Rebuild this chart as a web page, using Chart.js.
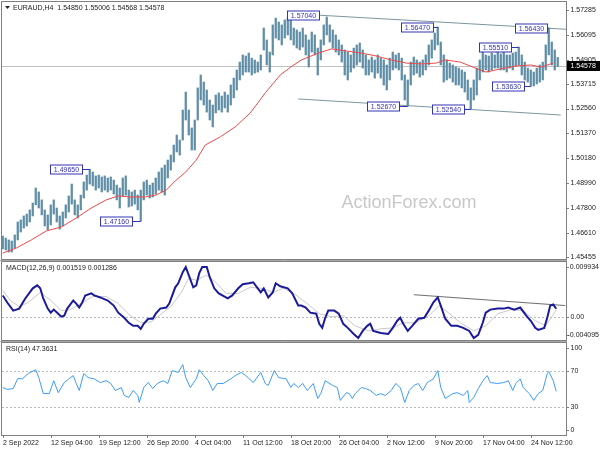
<!DOCTYPE html>
<html>
<head>
<meta charset="utf-8">
<script src="https://cdn.jsdelivr.net/npm/chart.js@4.4.1/dist/chart.umd.min.js"></script>
<style>
  body { margin: 0; background: #fff; }
  #wrap { position: relative; width: 600px; height: 450px; overflow: hidden; background: #fff; }
  canvas { position: absolute; left: 0; }
</style>
</head>
<body>
<div id="wrap">
  <canvas id="main" width="600" height="261" style="top:0px"></canvas>
  <canvas id="macd" width="600" height="81" style="top:261px"></canvas>
  <canvas id="rsi" width="600" height="108" style="top:342px"></canvas>
</div>
<script>
// EURAUD H4 - every entry below is one column of two H4 bars
const barStep = 2;
const priceHigh = [
  1.4645,1.4635,1.4626,1.4621,1.4650,1.4712,1.4722,1.4741,1.4750,1.4770,
  1.4803,1.4875,1.4856,1.4818,1.4770,1.4746,1.4794,1.4818,1.4779,1.4741,
  1.4760,1.4794,1.4837,1.4894,1.4818,1.4794,1.4841,1.4904,1.4937,1.4965,
  1.4952,1.4933,1.4937,1.4928,1.4933,1.4923,1.4928,1.4913,1.4889,1.4875,
  1.4923,1.4933,1.4865,1.4856,1.4865,1.4841,1.4865,1.4904,1.4913,1.4889,
  1.4899,1.4923,1.4952,1.4971,1.4985,1.5009,1.5033,1.5081,1.5129,1.5105,
  1.5249,1.5335,1.5249,1.5163,1.5201,1.5355,1.5417,1.5383,1.5345,1.5297,
  1.5273,1.5321,1.5331,1.5316,1.5335,1.5321,1.5369,1.5402,1.5441,1.5479,
  1.5513,1.5508,1.5522,1.5498,1.5489,1.5479,1.5513,1.5642,1.5585,1.5527,
  1.5657,1.5690,1.5671,1.5657,1.5681,1.5690,1.5704,1.5642,1.5633,1.5623,
  1.5642,1.5609,1.5585,1.5623,1.5609,1.5546,1.5585,1.5657,1.5695,1.5657,
  1.5633,1.5609,1.5585,1.5561,1.5537,1.5527,1.5513,1.5546,1.5561,1.5570,
  1.5537,1.5513,1.5489,1.5503,1.5489,1.5513,1.5498,1.5489,1.5465,1.5498,
  1.5527,1.5513,1.5522,1.5498,1.5417,1.5393,1.5479,1.5503,1.5489,1.5479,
  1.5489,1.5513,1.5561,1.5585,1.5618,1.5647,1.5575,1.5513,1.5489,1.5474,
  1.5465,1.5455,1.5450,1.5441,1.5431,1.5393,1.5355,1.5393,1.5450,1.5489,
  1.5527,1.5513,1.5508,1.5522,1.5513,1.5527,1.5518,1.5527,1.5513,1.5513,
  1.5522,1.5527,1.5551,1.5513,1.5479,1.5450,1.5441,1.5431,1.5450,1.5465,
  1.5479,1.5561,1.5643,1.5575,1.5537,1.5501
];
const priceLow = [
  1.4583,1.4578,1.4568,1.4568,1.4587,1.4626,1.4664,1.4683,1.4693,1.4712,
  1.4741,1.4794,1.4779,1.4746,1.4693,1.4674,1.4698,1.4750,1.4712,1.4678,
  1.4693,1.4731,1.4760,1.4798,1.4746,1.4731,1.4770,1.4827,1.4865,1.4894,
  1.4885,1.4865,1.4875,1.4856,1.4865,1.4856,1.4865,1.4846,1.4818,1.4779,
  1.4837,1.4841,1.4784,1.4789,1.4798,1.4770,1.4716,1.4818,1.4841,1.4827,
  1.4832,1.4846,1.4865,1.4856,1.4841,1.4923,1.4961,1.5000,1.5048,1.5033,
  1.5105,1.5201,1.5129,1.5057,1.5057,1.5201,1.5297,1.5273,1.5239,1.5201,
  1.5168,1.5235,1.5249,1.5239,1.5259,1.5239,1.5273,1.5307,1.5345,1.5393,
  1.5417,1.5431,1.5431,1.5417,1.5426,1.5431,1.5441,1.5537,1.5465,1.5431,
  1.5513,1.5594,1.5585,1.5561,1.5594,1.5609,1.5585,1.5561,1.5546,1.5537,
  1.5551,1.5513,1.5455,1.5527,1.5513,1.5417,1.5489,1.5561,1.5609,1.5575,
  1.5546,1.5527,1.5513,1.5479,1.5417,1.5393,1.5431,1.5450,1.5465,1.5479,
  1.5450,1.5417,1.5417,1.5431,1.5402,1.5426,1.5402,1.5369,1.5345,1.5393,
  1.5441,1.5450,1.5441,1.5393,1.5297,1.5267,1.5369,1.5417,1.5426,1.5407,
  1.5417,1.5441,1.5465,1.5498,1.5537,1.5561,1.5465,1.5383,1.5393,1.5402,
  1.5383,1.5369,1.5369,1.5355,1.5335,1.5297,1.5254,1.5297,1.5321,1.5393,
  1.5431,1.5441,1.5431,1.5441,1.5450,1.5450,1.5441,1.5441,1.5431,1.5450,
  1.5441,1.5460,1.5465,1.5417,1.5393,1.5383,1.5363,1.5364,1.5374,1.5383,
  1.5393,1.5441,1.5513,1.5465,1.5441,1.5457
];
const lastClose = 1.54578;

// moving average (red)
const maBar   = [0,9,19,29,39,49,59,69,77,85,95,102,109,115,122,129,135,145,155,165,175,185,192,199,209,219,229,239,249,259,269,279,289,295,305,315,322,332,342,352,359,367];
const maValue = [1.4563,1.4587,1.4626,1.4669,1.4688,1.4731,1.4779,1.4818,1.4837,1.4832,1.4832,1.4841,1.4865,1.4909,1.4952,1.5009,1.5081,1.5120,1.5168,1.5235,1.5331,1.5417,1.5455,1.5489,1.5518,1.5542,1.5532,1.5522,1.5508,1.5489,1.5474,1.5470,1.5474,1.5489,1.5479,1.5450,1.5431,1.5446,1.5460,1.5465,1.5455,1.5474];

// channel lines
const upperBar = [210, 376];
const upperValue = [1.5704, 1.5636];
const lowerBar = [197, 372];
const lowerValue = [1.5302, 1.5225];

// swing labels
const swingText  = ['1.49650','1.47160','1.57040','1.52670','1.56470','1.52540','1.55510','1.53630','1.56430'];
const swingBar   = [58, 92, 192, 270, 290, 312, 344, 352, 364];
const swingValue = [1.4965, 1.4716, 1.5704, 1.5267, 1.5647, 1.5254, 1.5551, 1.5363, 1.5643];

const priceTicks = [1.57285,1.56095,1.54905,1.53715,1.52560,1.51370,1.50180,1.48990,1.47800,1.46610,1.45455];

// MACD(12,26,9)
const macdBar = [0,3,7,11,15,20,23,25,27,30,32,34,37,39,41,43,47,49,51,53,55,59,61,65,70,74,77,81,84,87,90,92,94,97,100,102,105,109,111,113,115,117,120,122,124,127,129,131,133,136,138,141,144,150,153,157,160,164,167,170,172,174,177,180,182,185,190,193,197,199,202,205,209,211,213,215,217,221,224,227,230,234,237,240,243,245,247,252,257,260,263,265,267,270,273,277,281,284,287,290,292,295,299,303,307,311,314,317,320,322,325,330,334,337,341,345,349,352,355,357,361,363,365,367,369];
const macdValue = [0.00392,0.00265,0.00119,0.00155,0.00338,0.00520,0.00574,0.00520,0.00338,0.00155,0.00082,0.00137,0.00064,0.00010,0.00028,0.00155,0.00301,0.00246,0.00174,0.00265,0.00392,0.00429,0.00392,0.00356,0.00301,0.00210,0.00082,-0.00009,-0.00100,-0.00155,-0.00155,-0.00209,-0.00118,-0.00027,-0.00027,0.00064,0.00155,0.00174,0.00246,0.00392,0.00538,0.00611,0.00811,0.00902,0.00757,0.00538,0.00574,0.00793,0.00902,0.00902,0.00720,0.00520,0.00429,0.00338,0.00392,0.00520,0.00593,0.00611,0.00629,0.00520,0.00447,0.00520,0.00356,0.00447,0.00611,0.00556,0.00520,0.00429,0.00210,0.00210,0.00174,0.00082,0.00064,-0.00118,-0.00191,-0.00009,0.00119,0.00119,0.00064,-0.00118,-0.00191,-0.00300,-0.00373,-0.00246,-0.00155,-0.00118,-0.00246,-0.00282,-0.00300,-0.00191,-0.00063,-0.00009,-0.00118,-0.00246,-0.00155,-0.00027,-0.00009,0.00119,0.00265,0.00356,0.00210,-0.00027,-0.00155,-0.00155,-0.00191,-0.00246,-0.00373,-0.00318,-0.00100,0.00082,0.00137,0.00155,0.00155,0.00174,0.00137,0.00174,0.00028,-0.00063,-0.00191,-0.00227,-0.00191,-0.00009,0.00210,0.00228,0.001519];
const signalBar = [0,5,11,17,25,32,39,45,52,60,69,77,85,92,99,105,112,119,124,129,136,142,149,157,165,173,180,187,195,202,211,219,227,235,244,252,260,267,275,284,291,297,305,314,322,330,339,347,355,362,369];
const signalValue = [0.00483,0.00301,0.00192,0.00265,0.00447,0.00301,0.00119,0.00137,0.00246,0.00374,0.00374,0.00246,0.00028,-0.00100,-0.00082,0.00046,0.00192,0.00447,0.00702,0.00665,0.00757,0.00629,0.00429,0.00429,0.00538,0.00520,0.00447,0.00520,0.00410,0.00265,0.00064,0.00010,0.00028,-0.00155,-0.00246,-0.00209,-0.00191,-0.00100,-0.00100,0.00028,0.00210,0.00082,-0.00100,-0.00246,-0.00155,0.00064,0.00137,0.00119,-0.00063,-0.00155,0.001286];
const macdTrendBar = [274, 375];
const macdTrendValue = [0.00405, 0.00210];
const macdTicks = [0.009934, 0, -0.004095];
const macdTickText = ['0.009934', '0.00', '-0.004095'];

// RSI(14)
const rsiBar = [0,3,7,10,13,17,22,24,27,31,34,37,41,44,47,49,51,54,57,61,65,69,72,75,79,81,84,87,90,91,94,97,100,103,107,110,113,117,120,122,125,129,131,134,137,140,143,147,152,155,159,162,167,172,175,177,181,184,189,192,194,197,200,203,207,210,212,215,220,223,225,229,231,233,235,239,242,245,249,252,255,259,262,265,268,271,274,277,280,283,287,290,292,295,300,303,307,310,311,314,317,321,323,325,330,334,337,340,342,345,347,351,354,357,360,363,364,367,369];
const rsiValue = [51.6,49.5,50.5,61.4,61,66.8,71,62.4,45,45,59,46,57,61,64.6,56,48.4,66.8,62.4,61,57,59,56,48.4,51.6,43,40.8,48.4,43,35.4,51.6,57,50.5,56,59,56,70,68,76.5,62.4,51.6,61,71,64.6,59,48.4,56,56,61,64.6,68,64.6,57,68,56,53.8,70,62.4,61,51.6,56,51.6,56,48.4,56,39.7,45,59,53.8,51.6,37.6,46,45,39.7,45,51.6,50.5,48.4,43,45,43,48.4,56,51.6,35.4,48.4,53.8,56,48.4,57,61,70,51.6,39.7,45,46,43,48.4,35.4,40.8,50.5,61,64.6,57,56,57,59,48.4,56,61,51.6,45,37.6,45,48.4,66.8,69,59,47.3631];
const rsiTicks = [100, 70, 30, 0];

// time axis
const timeBar  = [0,32,64,96,128,160,192,224,256,288,320,352];
const timeText = ['2 Sep 2022','12 Sep 04:00','19 Sep 12:00','26 Sep 20:00','4 Oct 04:00','11 Oct 12:00','18 Oct 20:00','26 Oct 04:00','2 Nov 12:00','9 Nov 20:00','17 Nov 04:00','24 Nov 12:00'];

// ---------- look ----------
const FONT = '7px "Liberation Sans", Arial, sans-serif';
const TEXT = '#222';
const FRAME = '#808080';
const BLUE = '#3434b4';

const pts = (xs, ys) => xs.map((x, i) => ({ x: x, y: ys[i] }));

function baseOptions(padTop, padBottom, yMin, yMax) {
  return {
    responsive: false,
    animation: false,
    devicePixelRatio: 1,
    layout: { padding: { left: 2, right: 34, top: padTop, bottom: padBottom } },
    plugins: { legend: { display: false }, tooltip: { enabled: false } },
    scales: {
      x: { type: 'linear', min: -0.5, max: 375.5, offset: false, display: false },
      y: { type: 'linear', min: yMin, max: yMax, display: false }
    },
    elements: { point: { radius: 0 }, line: { tension: 0 } }
  };
}

function lineSet(data, color, width, order, dash) {
  return { type: 'line', data: data, borderColor: color, borderWidth: width,
           pointRadius: 0, fill: false, order: order, borderDash: dash || [] };
}

// pane border plus the darker seam MT4 draws under each window
function drawFrame(chart, seam) {
  const { ctx, chartArea: a } = chart;
  ctx.save();
  ctx.strokeStyle = FRAME;
  ctx.lineWidth = 1;
  ctx.strokeRect(a.left - 0.5, a.top - 0.5, a.right - a.left + 1, a.bottom - a.top + 1);
  if (seam) {
    ctx.strokeStyle = '#a8a8a8';
    ctx.beginPath();
    ctx.moveTo(0, a.bottom + 1.5);
    ctx.lineTo(a.right + 1, a.bottom + 1.5);
    ctx.stroke();
  }
  ctx.restore();
}

function drawRightLabels(chart, values, texts, clamp) {
  const { ctx, chartArea: a, scales: { y } } = chart;
  ctx.save();
  ctx.font = FONT;
  ctx.fillStyle = TEXT;
  ctx.strokeStyle = FRAME;
  ctx.textAlign = 'left';
  ctx.textBaseline = 'middle';
  values.forEach((v, i) => {
    let py = y.getPixelForValue(v);
    if (clamp) py = Math.min(Math.max(py, a.top + 5), a.bottom - 5);
    ctx.beginPath();
    ctx.moveTo(a.right, Math.round(py) + 0.5);
    ctx.lineTo(a.right + 3, Math.round(py) + 0.5);
    ctx.stroke();
    const w = ctx.measureText(texts[i]).width;
    ctx.fillText(texts[i], Math.min(a.right + 4.5, chart.width - 1 - w), py);
  });
  ctx.restore();
}

function drawLevel(chart, value, color, dash) {
  const { ctx, chartArea: a, scales: { y } } = chart;
  const py = Math.round(y.getPixelForValue(value)) + 0.5;
  ctx.save();
  ctx.strokeStyle = color;
  ctx.lineWidth = 1;
  ctx.setLineDash(dash);
  ctx.beginPath();
  ctx.moveTo(a.left, py);
  ctx.lineTo(a.right, py);
  ctx.stroke();
  ctx.restore();
}

function paneTitle(chart, text) {
  const { ctx, chartArea: a } = chart;
  ctx.save();
  ctx.font = FONT;
  ctx.fillStyle = TEXT;
  ctx.textBaseline = 'middle';
  ctx.fillText(text, a.left + 4, a.top + 6);
  ctx.restore();
}

// gap between swing box and its bar, px (negative: box sits on the bar)
const swingGap = [8, 9, -4, 9, 5, 7, 8, 7, 2];

const mainDecor = {
  id: 'mainDecor',
  beforeDatasetsDraw(chart) {
    const { ctx } = chart;
    drawLevel(chart, lastClose, '#c0c0c0', []);
    ctx.save();
    ctx.font = '18px "Liberation Sans", Arial, sans-serif';
    ctx.fillStyle = '#c8c8c8';
    ctx.textAlign = 'center';
    ctx.textBaseline = 'middle';
    ctx.fillText('ActionForex.com', 409, 203);
    ctx.restore();
  },
  afterDraw(chart) {
    const { ctx, chartArea: a, scales: { x, y } } = chart;
    drawFrame(chart, true);
    drawRightLabels(chart, priceTicks, priceTicks.map(v => v.toFixed(5)), false);
    // last price box
    const py = y.getPixelForValue(lastClose);
    ctx.save();
    ctx.fillStyle = '#000';
    ctx.fillRect(a.right + 1, Math.round(py) - 5, 33, 10);
    ctx.font = FONT;
    ctx.fillStyle = '#fff';
    ctx.textBaseline = 'middle';
    ctx.fillText(lastClose.toFixed(5), a.right + 4.5, py);
    ctx.restore();
    // title
    ctx.save();
    ctx.fillStyle = TEXT;
    ctx.beginPath();
    ctx.moveTo(a.left + 3, a.top + 4);
    ctx.lineTo(a.left + 8, a.top + 4);
    ctx.lineTo(a.left + 5.5, a.top + 7);
    ctx.closePath();
    ctx.fill();
    ctx.font = FONT;
    ctx.textBaseline = 'middle';
    ctx.fillText('EURAUD,H4  1.54850 1.55006 1.54568 1.54578', a.left + 11, a.top + 6);
    ctx.restore();
    // swing labels
    ctx.save();
    ctx.font = FONT;
    ctx.textBaseline = 'middle';
    ctx.textAlign = 'center';
    swingText.forEach((t, i) => {
      const px = x.getPixelForValue(swingBar[i]);
      const vy = Math.round(y.getPixelForValue(swingValue[i])) + 0.5;
      const w = 32, h = 9;
      const gap = swingGap[i];
      const left = gap < 0 ? Math.round(px + gap) + 0.5 : Math.round(px - gap - w) + 0.5;
      ctx.strokeStyle = BLUE;
      ctx.lineWidth = 1;
      if (gap > 0) {
        ctx.beginPath();
        ctx.moveTo(left + w, vy);
        ctx.lineTo(px, vy);
        ctx.stroke();
      }
      ctx.fillStyle = '#fff';
      ctx.fillRect(left, vy - h / 2, w, h);
      ctx.strokeRect(left, vy - h / 2, w, h);
      ctx.fillStyle = BLUE;
      ctx.fillText(t, left + w / 2, vy + 0.5);
    });
    ctx.restore();
  }
};

const macdDecor = {
  id: 'macdDecor',
  beforeDatasetsDraw(chart) { drawLevel(chart, 0, '#b8b8b8', [2, 2]); },
  afterDraw(chart) {
    drawFrame(chart, true);
    drawRightLabels(chart, macdTicks, macdTickText, true);
    paneTitle(chart, 'MACD(12,26,9) 0.001519 0.001286');
  }
};

const rsiDecor = {
  id: 'rsiDecor',
  beforeDatasetsDraw(chart) {
    drawLevel(chart, 70, '#b8b8b8', [2, 2]);
    drawLevel(chart, 30, '#b8b8b8', [2, 2]);
  },
  afterDraw(chart) {
    const { ctx, chartArea: a, scales: { x } } = chart;
    drawFrame(chart, false);
    drawRightLabels(chart, rsiTicks, rsiTicks.map(String), true);
    paneTitle(chart, 'RSI(14) 47.3631');
    ctx.save();
    ctx.font = FONT;
    ctx.fillStyle = TEXT;
    ctx.strokeStyle = FRAME;
    ctx.textBaseline = 'middle';
    timeBar.forEach((b, i) => {
      const px = Math.round(x.getPixelForValue(b)) + 0.5;
      ctx.beginPath();
      ctx.moveTo(px, a.bottom);
      ctx.lineTo(px, a.bottom + 3);
      ctx.stroke();
      ctx.fillText(timeText[i], px - 0.5, a.bottom + 8);
    });
    ctx.restore();
  }
};

// price pane
new Chart(document.getElementById('main'), {
  type: 'bar',
  data: {
    datasets: [
      { type: 'bar', data: priceHigh.map((h, i) => ({ x: i * barStep, y: [priceLow[i], h] })),
        backgroundColor: '#5f8ea6', barThickness: 1.6, grouped: false, order: 3 },
      lineSet(pts(maBar, maValue), '#f04848', 1, 1),
      lineSet(pts(upperBar, upperValue), '#7d96a0', 1, 2),
      lineSet(pts(lowerBar, lowerValue), '#7d96a0', 1, 2)
    ]
  },
  options: baseOptions(2, 2, 1.45346, 1.57669),
  plugins: [mainDecor]
});

// MACD pane
new Chart(document.getElementById('macd'), {
  type: 'line',
  data: {
    datasets: [
      lineSet(pts(signalBar, signalValue), '#c8c8c8', 1, 3),
      lineSet(pts(macdBar, macdValue), '#1b1b9a', 2, 1),
      lineSet(pts(macdTrendBar, macdTrendValue), '#6e6e6e', 1, 2)
    ]
  },
  options: baseOptions(1, 2, -0.004095, 0.009934),
  plugins: [macdDecor]
});

// RSI pane
new Chart(document.getElementById('rsi'), {
  type: 'line',
  data: {
    datasets: [ lineSet(pts(rsiBar, rsiValue), '#3d9bff', 1, 1) ]
  },
  options: baseOptions(1, 15, 0, 100),
  plugins: [rsiDecor]
});
</script>
</body>
</html>
